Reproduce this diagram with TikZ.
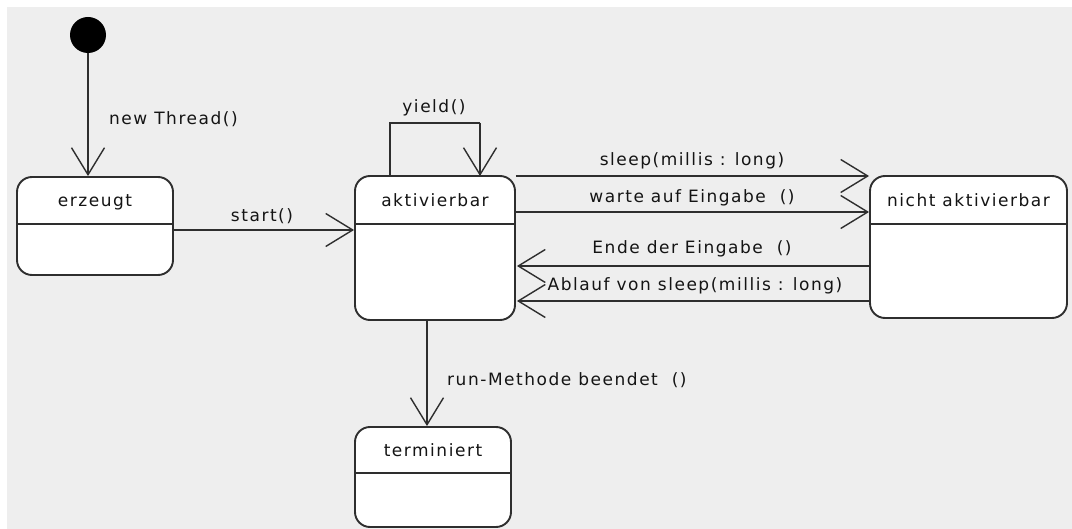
\documentclass[tikz,border=0pt]{standalone}
\usepackage{fontspec}
\setmainfont{DejaVu Sans}[LetterSpace=9]
\usetikzlibrary{arrows.meta}
\definecolor{canvas}{HTML}{EEEEEE}
\definecolor{ink}{HTML}{2E2E2E}
\begin{document}
\begin{tikzpicture}[x=1pt,y=-1pt,
  every node/.style={font=\fontsize{17}{20}\selectfont, text=black!92, inner sep=0pt},
  state/.style={draw=ink, line width=1.9pt, fill=white, rounded corners=15pt,
                rectangle, inner sep=0pt},
  divider/.style={draw=ink, line width=1.7pt},
  trans/.style={draw=ink, line width=1.7pt,
                -{Straight Barb[length=27pt,width=33pt,line width=1.4pt]}},
  plain/.style={draw=ink, line width=1.7pt},
]
% canvas
\fill[white] (0,0) rectangle (1072,529);
\fill[canvas] (7,7) rectangle (1072,529);

% initial pseudo-state
\node[circle, fill=black, minimum size=36pt] (init) at (88,35) {};

% states
\node[state, minimum width=156pt, minimum height=98pt] (erz) at (95,226) {};
\draw[divider] (17,224) -- (173,224);
\node (erzT) at (95,202) {erzeugt};

\node[state, minimum width=160pt, minimum height=144pt] (akt) at (435,248) {};
\draw[divider] (355,224) -- (515,224);
\node (aktT) at (435,200) {aktivierbar};

\node[state, minimum width=197pt, minimum height=142pt] (nak) at (968.5,247) {};
\draw[divider] (870,224) -- (1067,224);
\node (nakT) at (968.5,200) {nicht aktivierbar};

\node[state, minimum width=156pt, minimum height=100pt] (ter) at (433,477) {};
\draw[divider] (355,473) -- (511,473);
\node (terT) at (433,450) {terminiert};

% anchor points of the self loop
\coordinate (aktTopL) at (390,176);
\coordinate (aktTopR) at (480,176);
\coordinate (yl) at (390,123);
\coordinate (yr) at (480,123);

% transitions
\draw[trans] (init) -- (erz.north -| init);
\draw[trans] (erz.east |- 0,230) -- (akt.west |- 0,230);
\draw[plain] (aktTopL) -- (yl) -- (yr);
\draw[trans] (yr) -- (aktTopR);
\draw[trans] (akt.east |- 0,176) -- (nak.west |- 0,176);
\draw[trans] (akt.east |- 0,212) -- (nak.west |- 0,212);
\draw[trans] (nak.west |- 0,266) -- ([xshift=1pt]akt.east |- 0,266);
\draw[trans] (nak.west |- 0,301) -- ([xshift=1pt]akt.east |- 0,301);
\draw[trans] (akt.south -| 427,0) -- (ter.north -| 427,0);

% transition labels
\node[anchor=west] (lNew) at (109,119) {new Thread()};
\node (lStart) at (262,216) {start()};
\node (lYield) at (434,108) {yield()};
\node (lSleep) at (692,161) {sleep(millis : long)};
\node (lWarte) at (692,198) {warte auf Eingabe\ \ ()};
\node (lEnde) at (692,249) {Ende der Eingabe\ \ ()};
\node (lAblauf) at (695,286) {Ablauf von sleep(millis : long)};
\node[anchor=west] (lRun) at (447,380) {run-Methode beendet\ \ ()};
\end{tikzpicture}
\end{document}
